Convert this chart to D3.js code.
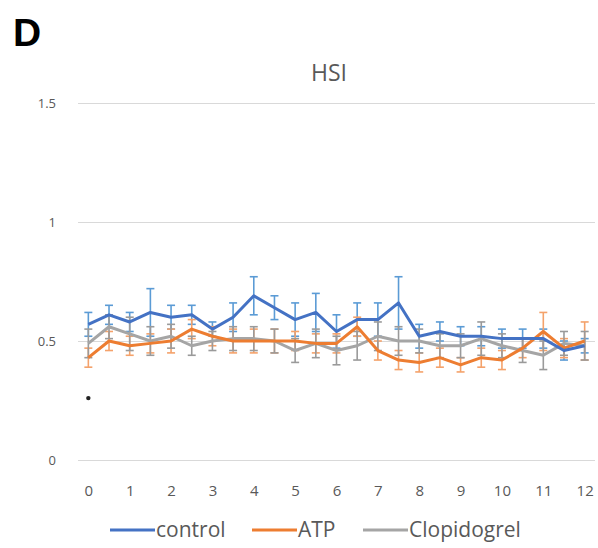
<!DOCTYPE html>
<html>
<head>
<meta charset="utf-8">
<script src="https://cdn.jsdelivr.net/npm/d3@7"></script>
<style>
  html, body { margin: 0; padding: 0; background: #fff; }
  svg { display: block; }
</style>
</head>
<body>
<svg id="chart" width="598" height="548"></svg>
<script>
// Time points (h) along the category axis
const timePoints = [0, 0.5, 1, 1.5, 2, 2.5, 3, 3.5, 4, 4.5, 5, 5.5, 6, 6.5, 7, 7.5, 8, 8.5, 9, 9.5, 10, 10.5, 11, 11.5, 12];
const xTickLabels = [0, 1, 2, 3, 4, 5, 6, 7, 8, 9, 10, 11, 12];
const yTicks = [0, 0.5, 1, 1.5];

// Mean HSI per group
const controlMean = [0.57, 0.61, 0.58, 0.62, 0.60, 0.61, 0.55, 0.60, 0.69, 0.64, 0.59, 0.62, 0.54, 0.59, 0.59, 0.66, 0.52, 0.54, 0.52, 0.52, 0.51, 0.51, 0.51, 0.46, 0.48];
const atpMean     = [0.43, 0.50, 0.48, 0.49, 0.50, 0.55, 0.52, 0.50, 0.50, 0.50, 0.50, 0.49, 0.49, 0.56, 0.46, 0.42, 0.41, 0.43, 0.40, 0.43, 0.42, 0.47, 0.54, 0.47, 0.50];
const clopMean    = [0.49, 0.56, 0.53, 0.50, 0.52, 0.48, 0.50, 0.51, 0.51, 0.50, 0.46, 0.49, 0.46, 0.48, 0.52, 0.50, 0.50, 0.48, 0.48, 0.51, 0.48, 0.46, 0.44, 0.49, 0.48];

// Error bar half-lengths per group
const controlErr = [0.05, 0.04, 0.04, 0.10, 0.05, 0.04, 0.03, 0.06, 0.08, 0.05, 0.07, 0.08, 0.07, 0.07, 0.07, 0.11, 0.05, 0.04, 0.04, 0.04, 0.04, 0.04, 0.04, 0.04, 0.03];
const atpErr     = [0.04, 0.04, 0.04, 0.04, 0.05, 0.04, 0.04, 0.05, 0.05, 0.05, 0.04, 0.04, 0.04, 0.04, 0.04, 0.04, 0.04, 0.04, 0.03, 0.04, 0.04, 0.04, 0.08, 0.04, 0.08];
const clopErr    = [0.06, 0.05, 0.07, 0.06, 0.05, 0.04, 0.04, 0.05, 0.05, 0.05, 0.05, 0.06, 0.06, 0.06, 0.06, 0.06, 0.05, 0.05, 0.05, 0.07, 0.05, 0.05, 0.06, 0.05, 0.06];

// Significance marker
const markerTime = [0];
const markerValue = [0.26];

const seriesNames = ["control", "ATP", "Clopidogrel"];
const seriesColors = ["#4472C4", "#ED7D31", "#A5A5A5"];
const errColors = ["#5B9BD5", "#F4A26B", "#9A9A9A"];

const series = [
  { name: seriesNames[0], mean: controlMean, err: controlErr, color: seriesColors[0], ecolor: errColors[0] },
  { name: seriesNames[1], mean: atpMean, err: atpErr, color: seriesColors[1], ecolor: errColors[1] },
  { name: seriesNames[2], mean: clopMean, err: clopErr, color: seriesColors[2], ecolor: errColors[2] }
];

const svg = d3.select("#chart");
const font = "'Open Sans', 'Liberation Sans', sans-serif";

const plot = { left: 78, right: 595, top: 103, bottom: 460 };

const x = d3.scalePoint()
  .domain(timePoints)
  .range([plot.left, plot.right])
  .padding(0.5);

const y = d3.scaleLinear()
  .domain([0, 1.5])
  .range([plot.bottom, plot.top]);

// Horizontal gridlines + y labels
const yAxis = svg.append("g")
  .attr("transform", `translate(${plot.left},0)`)
  .call(d3.axisLeft(y).tickValues(yTicks).tickSize(-(plot.right - plot.left)).tickPadding(22).tickFormat(d3.format("")));
yAxis.select(".domain").remove();
yAxis.selectAll(".tick line").attr("stroke", "#d9d9d9").attr("stroke-width", 1.2);
yAxis.selectAll(".tick text")
  .attr("fill", "#595959")
  .style("font-family", font)
  .style("font-size", "13px");

// X axis labels (integer hours only)
const xAxis = svg.append("g")
  .attr("transform", `translate(0,${plot.bottom})`)
  .call(d3.axisBottom(x).tickValues(xTickLabels).tickSize(0).tickPadding(25));
xAxis.select(".domain").remove();
xAxis.selectAll(".tick text")
  .attr("fill", "#595959")
  .style("font-family", font)
  .style("font-size", "15px");

const line = d3.line()
  .x((d, i) => x(timePoints[i]))
  .y(d => y(d));

// Error bars first, then lines on top
series.forEach(s => {
  const g = svg.append("g");
  s.mean.forEach((m, i) => {
    const cx = x(timePoints[i]);
    const top = y(m + s.err[i]);
    const bot = y(m - s.err[i]);
    g.append("line").attr("x1", cx).attr("x2", cx).attr("y1", top).attr("y2", bot)
      .attr("stroke", s.ecolor).attr("stroke-width", 1.6);
    [top, bot].forEach(yy => {
      g.append("line").attr("x1", cx - 4).attr("x2", cx + 4).attr("y1", yy).attr("y2", yy)
        .attr("stroke", s.ecolor).attr("stroke-width", 1.6);
    });
  });
});

series.slice().reverse().forEach(s => {
  svg.append("path")
    .datum(s.mean)
    .attr("d", line)
    .attr("fill", "none")
    .attr("stroke", s.color)
    .attr("stroke-width", 3)
    .attr("stroke-linejoin", "round");
});

// Significance marker
svg.selectAll(".marker")
  .data(markerValue)
  .enter().append("circle")
  .attr("cx", (d, i) => x(markerTime[i]))
  .attr("cy", d => y(d))
  .attr("r", 2.2)
  .attr("fill", "#222");

// Title and panel letter
svg.append("text")
  .attr("x", 329).attr("y", 81)
  .attr("text-anchor", "middle")
  .attr("fill", "#595959")
  .style("font-family", font)
  .style("font-size", "23px")
  .text("HSI");

svg.append("text")
  .attr("x", 13).attr("y", 46)
  .attr("fill", "#000")
  .style("font-family", "'Liberation Sans', Arial, sans-serif")
  .style("font-weight", "bold")
  .style("font-size", "39px")
  .text("D");

// Legend
const legendItems = [
  { name: seriesNames[0], color: seriesColors[0], x: 110 },
  { name: seriesNames[1], color: seriesColors[1], x: 252 },
  { name: seriesNames[2], color: seriesColors[2], x: 363 }
];
const lg = svg.append("g");
legendItems.forEach(it => {
  lg.append("line").attr("x1", it.x).attr("x2", it.x + 45).attr("y1", 530).attr("y2", 530)
    .attr("stroke", it.color).attr("stroke-width", 3);
  lg.append("text").attr("x", it.x + 46).attr("y", 537)
    .attr("fill", "#595959")
    .style("font-family", font)
    .style("font-size", "21px")
    .text(it.name);
});
</script>
</body>
</html>
